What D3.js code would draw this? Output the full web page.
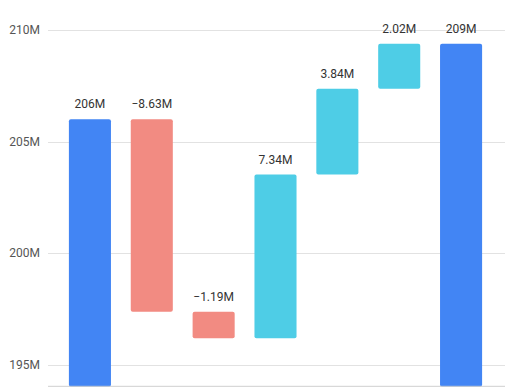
<!DOCTYPE html>
<html>
<head>
<meta charset="utf-8">
<script src="https://cdn.jsdelivr.net/npm/d3@7"></script>
<style>
  body { margin: 0; background: #fff; }
  text { font-family: Roboto, "Noto Sans", sans-serif; }
</style>
</head>
<body>
<div id="chart"></div>
<script>
// data
var steps = ["Start", "A", "B", "C", "D", "E", "End"];
var deltas = [206.0, -8.63, -1.19, 7.34, 3.84, 2.02, null]; // null = total
var labels = ["206M", "\u22128.63M", "\u22121.19M", "7.34M", "3.84M", "2.02M", "209M"];
var yTicks = [195, 200, 205, 210];

var width = 505, height = 390;
var margin = {top: 30, left: 48, bottom: 3.2};

// build running totals
var bars = [];
var run = 0;
deltas.forEach(function(d, i) {
  if (i === 0) {
    bars.push({name: steps[i], y0: 0, y1: d, type: "total", label: labels[i]});
    run = d;
  } else if (d === null) {
    bars.push({name: steps[i], y0: 0, y1: run, type: "total", label: labels[i]});
  } else {
    bars.push({name: steps[i], y0: run, y1: run + d, type: d < 0 ? "neg" : "pos", label: labels[i]});
    run += d;
  }
});

var color = {total: "#4285f4", neg: "#f28b82", pos: "#4ecde6"};

var svg = d3.select("#chart")
  .append("svg")
  .attr("width", width)
  .attr("height", height);

var x = d3.scaleBand()
  .domain(steps)
  .range([59, 492])
  .paddingInner(0.32)
  .paddingOuter(0.16);

var y = d3.scaleLinear()
  .domain([194, 210])
  .range([height - margin.bottom, margin.top]);

// gridlines
svg.append("g")
  .selectAll("line")
  .data(yTicks)
  .join("line")
  .attr("x1", margin.left)
  .attr("x2", width)
  .attr("y1", function(d) { return Math.round(y(d)) + 0.5; })
  .attr("y2", function(d) { return Math.round(y(d)) + 0.5; })
  .attr("stroke", "#e2e2e2")
  .attr("stroke-width", 1);

// y labels
svg.append("g")
  .selectAll("text")
  .data(yTicks)
  .join("text")
  .attr("x", 40)
  .attr("y", function(d) { return y(d); })
  .attr("dy", "0.35em")
  .attr("text-anchor", "end")
  .attr("font-size", 12)
  .attr("fill", "#555")
  .text(function(d) { return d + "M"; });

// bars
var clipBottom = y.range()[0];
svg.append("g")
  .selectAll("rect")
  .data(bars)
  .join("rect")
  .attr("x", function(d) { return x(d.name); })
  .attr("width", x.bandwidth())
  .attr("y", function(d) { return y(Math.max(d.y0, d.y1)); })
  .attr("height", function(d) {
    var top = y(Math.max(d.y0, d.y1));
    var bot = Math.min(y(Math.min(d.y0, d.y1)), clipBottom);
    return bot - top;
  })
  .attr("rx", 2)
  .attr("fill", function(d) { return color[d.type]; });

// baseline
svg.append("line")
  .attr("x1", margin.left)
  .attr("x2", width)
  .attr("y1", clipBottom - 0.5)
  .attr("y2", clipBottom - 0.5)
  .attr("stroke", "#cfcfcf");

// value labels
svg.append("g")
  .selectAll("text")
  .data(bars)
  .join("text")
  .attr("x", function(d) { return x(d.name) + x.bandwidth() / 2; })
  .attr("y", function(d) { return y(Math.max(d.y0, d.y1)) - 11; })
  .attr("text-anchor", "middle")
  .attr("font-size", 12)
  .attr("fill", "#333")
  .text(function(d) { return d.label; });
</script>
</body>
</html>
